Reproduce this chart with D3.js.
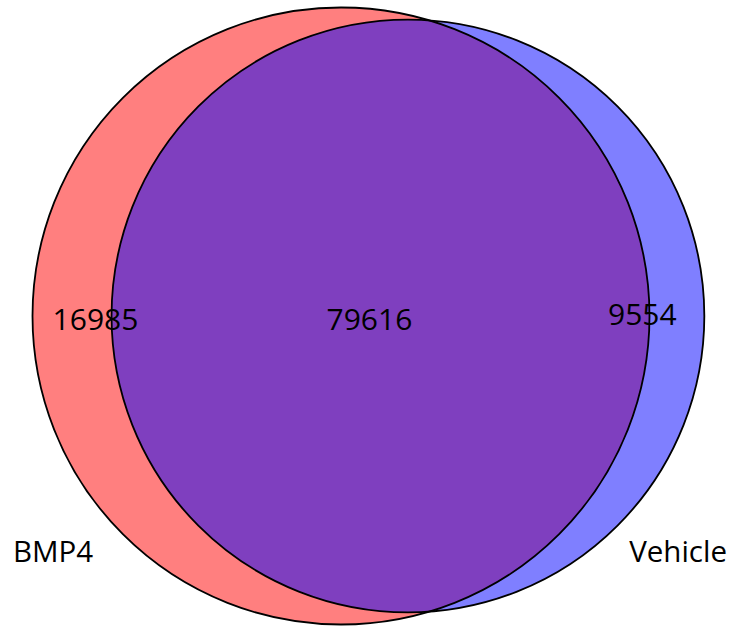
<!DOCTYPE html>
<html>
<head>
<meta charset="utf-8">
<script src="https://cdn.jsdelivr.net/npm/d3@7"></script>
<style>
  html, body { margin: 0; padding: 0; background: #fff; }
  svg { display: block; }
  text { font-family: "Open Sans", sans-serif; fill: #000; }
</style>
</head>
<body>
<svg id="chart" width="734" height="626"></svg>
<script>
// ---- data ----
const setNames = ["BMP4", "Vehicle"];
const onlyCounts = [16985, 9554];
const overlapCount = 79616;
const setColors = ["rgba(255,0,0,0.5)", "rgba(0,0,255,0.5)"];

// ---- layout ----
const W = 734, H = 626;
const svg = d3.select("#chart");
const totals = onlyCounts.map(c => c + overlapCount);

const rScale = d3.scaleSqrt().domain([0, d3.max(totals)]).range([0, 308.5]);
const r1 = rScale(totals[0]), r2 = rScale(totals[1]);
// area units -> px^2
const unitArea = Math.PI * r1 * r1 / totals[0];
const targetOverlap = overlapCount * unitArea;

function lensArea(d, a, b) {
  if (d >= a + b) return 0;
  if (d <= Math.abs(a - b)) return Math.PI * Math.min(a, b) ** 2;
  const t1 = Math.acos((d * d + a * a - b * b) / (2 * d * a));
  const t2 = Math.acos((d * d + b * b - a * a) / (2 * d * b));
  return a * a * t1 + b * b * t2 - 0.5 * Math.sqrt((-d + a + b) * (d + a - b) * (d - a + b) * (d + a + b));
}
let lo = Math.abs(r1 - r2), hi = r1 + r2;
for (let i = 0; i < 100; i++) {
  const mid = (lo + hi) / 2;
  if (lensArea(mid, r1, r2) > targetOverlap) lo = mid; else hi = mid;
}
const dist = (lo + hi) / 2;

const leftEdge = 32.5;
const cy = 316;
const c1x = leftEdge + r1;
const c2x = c1x + dist;

const circles = [
  { cx: c1x, cy: cy, r: r1, color: setColors[0] },
  { cx: c2x, cy: cy, r: r2, color: setColors[1] }
];

svg.selectAll("circle.fill").data(circles).join("circle")
  .attr("class", "fill")
  .attr("cx", d => d.cx).attr("cy", d => d.cy).attr("r", d => d.r)
  .attr("fill", d => d.color).attr("stroke", "none");

svg.selectAll("circle.edge").data(circles).join("circle")
  .attr("class", "edge")
  .attr("cx", d => d.cx).attr("cy", d => d.cy).attr("r", d => d.r)
  .attr("fill", "none").attr("stroke", "#000").attr("stroke-width", 1.8);

// count labels
const fmt = d3.format("d");
const countLabels = [
  { text: fmt(onlyCounts[0]), x: c1x - r1 + 63, y: 330 },
  { text: fmt(overlapCount), x: (c1x + c2x) / 2 - 5, y: 330 },
  { text: fmt(onlyCounts[1]), x: c2x + r2 - 62, y: 325 }
];
svg.selectAll("text.count").data(countLabels).join("text")
  .attr("class", "count")
  .attr("x", d => d.x).attr("y", d => d.y)
  .attr("text-anchor", "middle")
  .attr("font-size", 30)
  .text(d => d.text);

// set names
const nameLabels = [
  { text: setNames[0], x: 13, y: 562, anchor: "start" },
  { text: setNames[1], x: 727, y: 562, anchor: "end" }
];
svg.selectAll("text.name").data(nameLabels).join("text")
  .attr("class", "name")
  .attr("x", d => d.x).attr("y", d => d.y)
  .attr("text-anchor", d => d.anchor)
  .attr("font-size", 29.5)
  .text(d => d.text);
</script>
</body>
</html>
